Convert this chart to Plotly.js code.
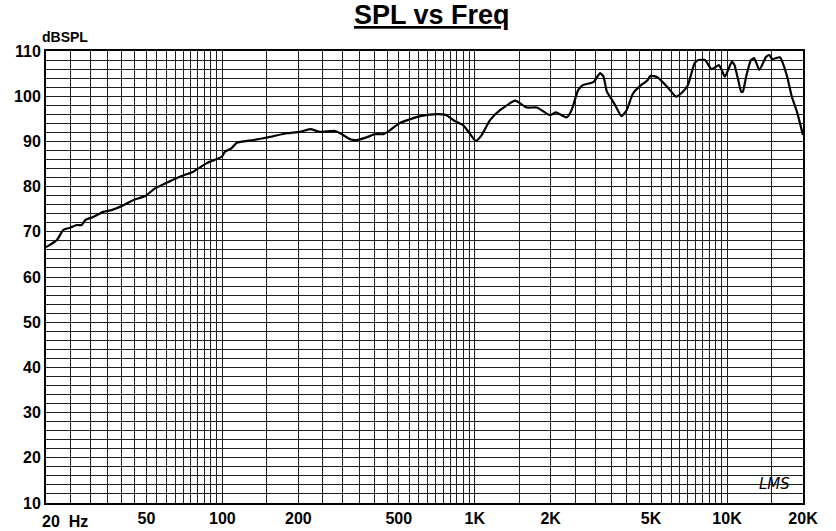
<!DOCTYPE html>
<html>
<head>
<meta charset="utf-8">
<script src="https://cdn.plot.ly/plotly-3.0.1.min.js"></script>
<style>html,body{margin:0;padding:0;background:#fff;}#chart{width:836px;height:531px;}</style>
</head>
<body>
<div id="chart"></div>
<script>
// Frequency (Hz) and SPL (dB)
const freqHz = [20, 22.1, 23.4, 24.9, 26.5, 27.7, 28.6, 30.8, 33.7, 36.4, 39.9, 44.3, 49.4, 54.1, 59.3, 67.9, 76.7, 86.8, 99.4, 102.4, 108.8, 114, 132.6, 154.8, 179.8, 203, 222.6, 244, 280, 293, 320, 340, 373, 403, 435, 462, 506, 554, 608, 686, 772, 834, 899, 954, 1010, 1066, 1150, 1260, 1446, 1608, 1762, 1988, 2100, 2312, 2420, 2572, 2692, 2952, 3140, 3240, 3340, 3500, 3596, 3814, 4000, 4240, 4600, 4820, 4974, 5300, 5810, 6280, 6680, 7000, 7440, 7700, 8180, 8680, 9280, 9460, 9800, 10100, 10440, 10700, 11040, 11380, 11550, 11900, 12440, 12820, 13420, 14280, 14720, 15100, 16200, 17240, 18060, 18920, 20000];
const splDb = [66.6, 68.2, 70.4, 70.9, 71.5, 71.5, 72.6, 73.3, 74.4, 74.8, 75.7, 77.0, 77.9, 79.6, 80.7, 82.2, 83.3, 85.2, 86.6, 87.7, 88.5, 89.7, 90.3, 91.0, 91.8, 92.1, 92.7, 92.1, 92.3, 91.8, 90.5, 90.3, 90.9, 91.6, 91.6, 92.5, 94.1, 94.9, 95.6, 96.0, 95.8, 94.5, 93.6, 91.8, 90.1, 91.4, 94.7, 96.9, 99.0, 97.5, 97.5, 95.8, 96.4, 95.3, 96.9, 101.4, 102.5, 103.1, 105.1, 104.3, 101.0, 99.2, 98.1, 95.6, 96.9, 100.6, 102.6, 103.4, 104.5, 104.2, 102.0, 99.9, 101.0, 102.5, 107.3, 108.0, 108.0, 106.0, 106.9, 106.2, 104.3, 105.8, 107.6, 106.9, 103.9, 101.0, 101.0, 104.3, 108.0, 108.4, 105.8, 108.7, 109.1, 108.2, 108.6, 104.7, 99.9, 96.6, 91.4];

// Vertical grid positions and labels
const xGridVals = [20,25,30,35,40,45,50,55,60,65,70,75,80,85,90,95,100,150,
  200,250,300,350,400,450,500,550,600,650,700,750,800,850,900,950,1000,1500,
  2000,2500,3000,3500,4000,4500,5000,5500,6000,6500,7000,7500,8000,8500,9000,9500,10000,15000,20000];
const xLabelMap = {50:'50',100:'100',200:'200',500:'500',1000:'1K',2000:'2K',5000:'5K',10000:'10K',20000:'20K'};
const xTickText = xGridVals.map(v => xLabelMap[v] || '');

// Horizontal grid every 2 dB, labels every 10 dB
const yGridVals = [];
for (let v = 10; v <= 110; v += 2) yGridVals.push(v);
const yTickText = yGridVals.map(v => (v % 10 === 0 ? String(v) : ''));

const FONT = 'Liberation Sans, Arial, sans-serif';

const trace = {
  x: freqHz, y: splDb, type: 'scatter', mode: 'lines',
  line: {color: '#000', width: 2.2, shape: 'spline', smoothing: 0.5},
  hoverinfo: 'skip'
};

const layout = {
  width: 836, height: 531,
  margin: {l: 46, r: 33, t: 51, b: 28},
  paper_bgcolor: '#fff', plot_bgcolor: '#fff',
  showlegend: false,
  font: {family: FONT, color: '#000'},
  xaxis: {
    type: 'log', range: [Math.log10(20), Math.log10(20000)],
    tickmode: 'array', tickvals: xGridVals, ticktext: xTickText,
    ticks: '', showgrid: true, gridcolor: '#1e1e1e', gridwidth: 1,
    showline: true, linecolor: '#000', linewidth: 2, mirror: true,
    zeroline: false, tickangle: 0,
    tickfont: {family: FONT, size: 16, color: '#000', weight: 'bold'}
  },
  yaxis: {
    range: [10, 110],
    tickmode: 'array', tickvals: yGridVals, ticktext: yTickText,
    ticks: '', showgrid: true, gridcolor: '#1e1e1e', gridwidth: 1,
    showline: true, linecolor: '#000', linewidth: 2, mirror: true,
    zeroline: false,
    tickfont: {family: FONT, size: 16, color: '#000', weight: 'bold'}
  },
  annotations: [
    {text: '<u>SPL vs Freq</u>', xref: 'paper', yref: 'paper', x: 0.51, y: 1, yshift: 36,
     xanchor: 'center', yanchor: 'middle', showarrow: false,
     font: {family: FONT, size: 27, color: '#000', weight: 'bold'}},
    {text: 'dBSPL', xref: 'paper', yref: 'paper', x: 0, y: 1, xshift: -6, yshift: 14,
     xanchor: 'left', yanchor: 'middle', showarrow: false,
     font: {family: FONT, size: 14, color: '#000', weight: 'bold'}},
    {text: '20  Hz', xref: 'paper', yref: 'paper', x: 0, y: 0, xshift: -6, yshift: -18,
     xanchor: 'left', yanchor: 'middle', showarrow: false,
     font: {family: FONT, size: 16, color: '#000', weight: 'bold'}},
    {text: '<i>LMS</i>', xref: 'paper', yref: 'paper', x: 0.963, y: 0.043,
     xanchor: 'center', yanchor: 'middle', showarrow: false,
     font: {family: 'DejaVu Sans, sans-serif', size: 15, color: '#000'}}
  ]
};

Plotly.newPlot('chart', [trace], layout, {staticPlot: true, displayModeBar: false});
</script>
</body>
</html>
